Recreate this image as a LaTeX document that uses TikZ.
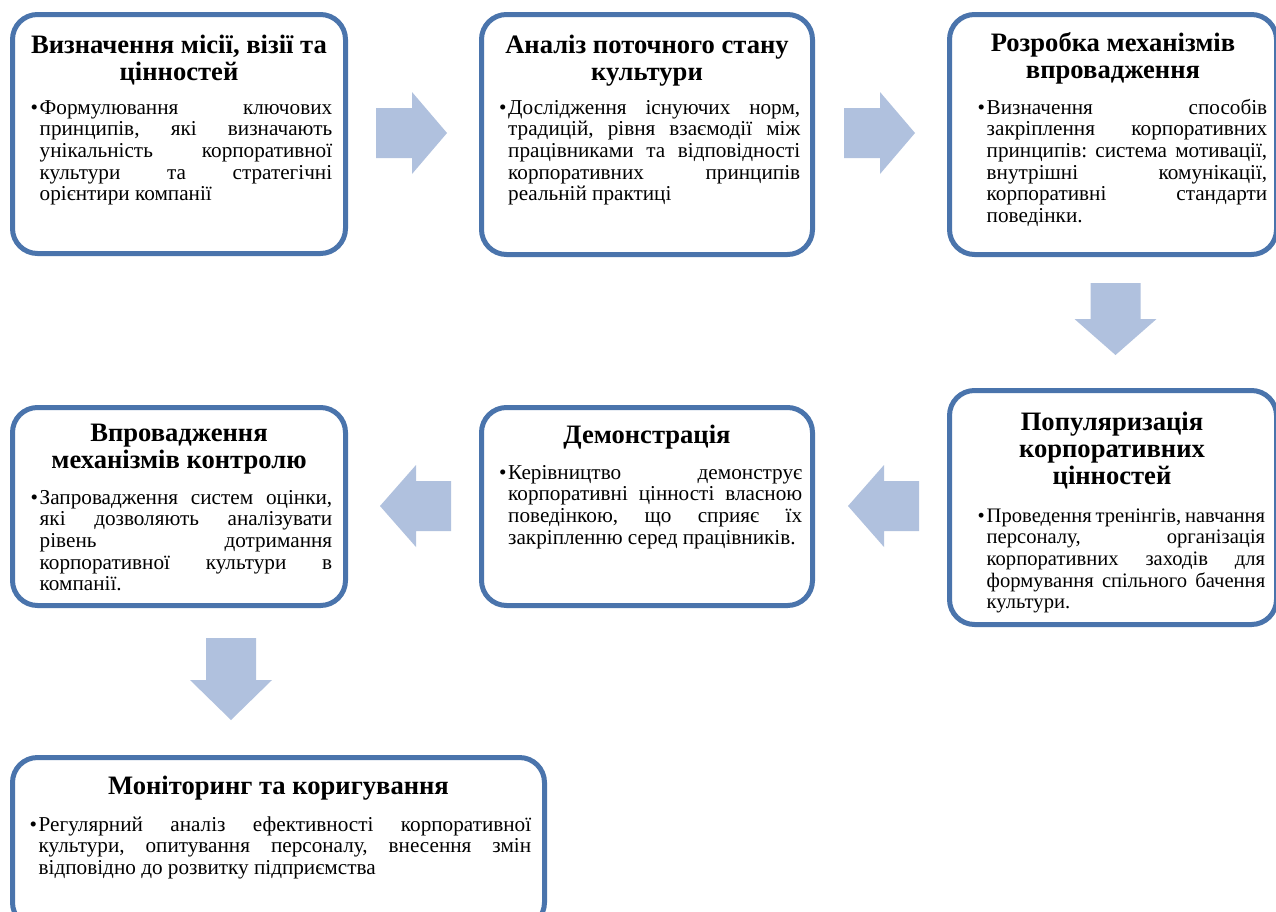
\documentclass[tikz,border=0pt]{standalone}
\usepackage{fontspec}
\setmainfont{Liberation Serif}
\tolerance=10000
\hyphenpenalty=10000
\exhyphenpenalty=10000
\definecolor{bordercol}{RGB}{74,116,172}
\definecolor{arrowcol}{RGB}{176,193,222}
\newcommand{\bul}{\noindent\rule{0pt}{16pt}\llap{\makebox[9pt][l]{•}}}
\newcommand{\blockarrow}[5]{%
  \begin{scope}[shift={(#1,#2)},rotate=#3]
    \fill[arrowcol] (0,-25) -- ({#4-#5},-25) -- ({#4-#5},-41) -- (#4,0) -- ({#4-#5},41) -- ({#4-#5},25) -- (0,25) -- cycle;
  \end{scope}}
\begin{document}
\begin{tikzpicture}[x=1pt,y=-1pt,
  box/.style={draw=bordercol, line width=5pt, rounded corners=25pt, fill=white, inner sep=0pt},
  ttl/.style={anchor=north, align=center, inner sep=0pt, font=\bfseries\fontsize{26.6}{27}\selectfont},
  bod/.style={anchor=north west, align=justify, inner sep=0pt, font=\fontsize{21.2}{21.6}\selectfont}]
\fill[white] (0,0) rectangle (1276,911);
\useasboundingbox (0,0) rectangle (1276,911);

% boxes
\node[box, minimum width=333pt, minimum height=239pt] (b1) at (179,134) {};
\node[box, minimum width=331pt, minimum height=240pt] (b2) at (647,134.5) {};
\node[box, minimum width=327pt, minimum height=240pt] (b3) at (1113,134.5) {};
\node[box, minimum width=327pt, minimum height=234pt] (b4) at (1113,507.5) {};
\node[box, minimum width=331pt, minimum height=198pt] (b5) at (647,506.5) {};
\node[box, minimum width=333pt, minimum height=198pt] (b6) at (179,506.5) {};
\node[box, minimum width=532pt, minimum height=170pt] (b7) at (278.5,842.5) {};

% titles
\node[ttl] (t1) at (179,33) {\rule{0pt}{20pt}Визначення місії, візії та\\цінностей};
\node[ttl] (t2) at (647,33) {\rule{0pt}{20pt}Аналіз поточного стану\\культури};
\node[ttl] (t3) at (1113,31.5) {\rule{0pt}{20pt}Розробка механізмів\\впровадження};
\node[ttl] (t4) at (1112,410) {\rule{0pt}{20pt}Популяризація\\корпоративних\\цінностей};
\node[ttl] (t5) at (647,423) {\rule{0pt}{20pt}Демонстрація};
\node[ttl] (t6) at (179,421) {\rule{0pt}{20pt}Впровадження\\механізмів контролю};
\node[ttl] (t7) at (278.5,774) {\rule{0pt}{20pt}Моніторинг та коригування};

% bodies
\node[bod, text width=292.5pt] (d1) at (39.5,98) {\bul Формулювання~ключових\linebreak принципів,~які~визначають\linebreak унікальність~корпоративної\linebreak культури~та~стратегічні\linebreak орієнтири~компанії};
\node[bod, text width=292pt] (d2) at (508,98) {\bul Дослідження~існуючих~норм,\linebreak традицій,~рівня~взаємодії~між\linebreak працівниками~та~відповідності\linebreak корпоративних~принципів\linebreak реальній~практиці};
\node[bod, text width=280.5pt] (d3) at (986.5,98) {\bul Визначення~способів\linebreak закріплення~корпоративних\linebreak принципів:~система~мотивації,\linebreak внутрішні~комунікації,\linebreak корпоративні~стандарти\linebreak поведінки.};
\node[bod, text width=278.5pt, font=\fontsize{20.6}{21.6}\selectfont] (d4) at (986.5,506) {\bul Проведення~тренінгів,~навчання\linebreak персоналу,~організація\linebreak корпоративних~заходів~для\linebreak формування~спільного~бачення\linebreak культури.};
\node[bod, text width=294pt] (d5) at (508,463) {\bul Керівництво~демонструє\linebreak корпоративні~цінності~власною\linebreak поведінкою,~що~сприяє~їх\linebreak закріпленню~серед~працівників.};
\node[bod, text width=292.5pt] (d6) at (39.5,488) {\bul Запровадження~систем~оцінки,\linebreak які~дозволяють~аналізувати\linebreak рівень~дотримання\linebreak корпоративної~культури~в\linebreak компанії.};
\node[bod, text width=492.5pt] (d7) at (38.5,815) {\bul Регулярний~аналіз~ефективності~корпоративної\linebreak культури,~опитування~персоналу,~внесення~змін\linebreak відповідно~до~розвитку~підприємства};

% block arrows
\blockarrow{376}{133}{0}{71}{35}
\blockarrow{844}{133}{0}{71}{35}
\blockarrow{1115.5}{283}{-90}{72}{36}
\blockarrow{919}{506}{180}{71}{36}
\blockarrow{451}{506}{180}{71}{36}
\blockarrow{231}{638}{-90}{82}{40}
\end{tikzpicture}
\end{document}
